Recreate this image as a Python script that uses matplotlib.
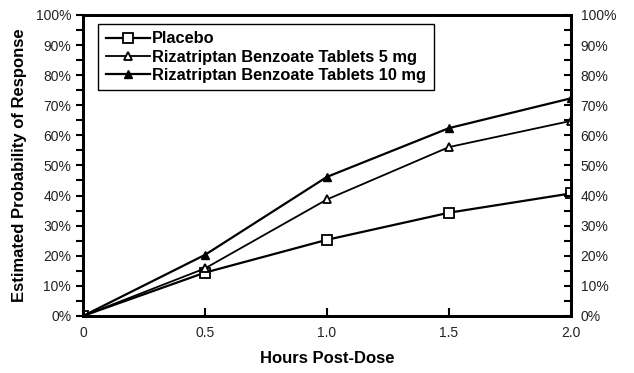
import matplotlib.pyplot as plt
from matplotlib.ticker import MultipleLocator, FuncFormatter

plt.rcParams['font.family'] = ['Liberation Sans', 'DejaVu Sans']

hours = [0, 0.5, 1.0, 1.5, 2.0]
hour_labels = ['0', '0.5', '1.0', '1.5', '2.0']
placebo = [0, 14.4, 25.3, 34.3, 40.7]
riza_5mg = [0, 15.8, 38.7, 56.1, 64.8]
riza_10mg = [0, 20.3, 46.2, 62.4, 72.3]

fig = plt.figure(figsize=(6.34, 3.73), dpi=100)
ax = fig.add_axes([0.131, 0.153, 0.7696, 0.807])

ax.plot(hours, placebo, color='black', linewidth=1.6, marker='s', markersize=7,
        markerfacecolor='white', markeredgecolor='black', markeredgewidth=1.3,
        label='Placebo')
ax.plot(hours, riza_5mg, color='black', linewidth=1.3, marker='^', markersize=6,
        markerfacecolor='white', markeredgecolor='black', markeredgewidth=1.3,
        label='Rizatriptan Benzoate Tablets 5 mg')
ax.plot(hours, riza_10mg, color='black', linewidth=1.6, marker='^', markersize=6,
        markerfacecolor='black', markeredgecolor='black',
        label='Rizatriptan Benzoate Tablets 10 mg')

pct = FuncFormatter(lambda v, p: '%d%%' % round(v))

ax.set_xlim(0, 2.0)
ax.set_ylim(0, 100)
ax.set_xticks(hours)
ax.set_xticklabels(hour_labels)
ax.yaxis.set_major_locator(MultipleLocator(10))
ax.yaxis.set_minor_locator(MultipleLocator(5))
ax.yaxis.set_major_formatter(pct)
ax.tick_params(axis='y', which='both', direction='out', length=5, width=1.5,
               labelsize=10, colors='black', labelcolor='#222222')
ax.tick_params(axis='x', direction='in', length=6, width=1.5, labelsize=10,
               pad=7, labelcolor='#222222')

ax2 = ax.twinx()
ax2.set_ylim(0, 100)
ax2.yaxis.set_major_locator(MultipleLocator(10))
ax2.yaxis.set_minor_locator(MultipleLocator(5))
ax2.yaxis.set_major_formatter(pct)
ax2.tick_params(axis='y', which='both', direction='in', length=5, width=1.5,
                labelsize=10, pad=7, labelcolor='#222222')

for a in (ax, ax2):
    for s in a.spines.values():
        s.set_linewidth(2)

ax.set_xlabel('Hours Post-Dose', fontsize=12, fontweight='bold', labelpad=8)
ax.set_ylabel('Estimated Probability of Response', fontsize=12,
              fontweight='bold', labelpad=6)

leg = ax.legend(loc='upper left', bbox_to_anchor=(0.031, 0.97), fancybox=False,
                framealpha=1, edgecolor='black', handlelength=2.7,
                handletextpad=0.15, borderpad=0.45, labelspacing=0.2,
                borderaxespad=0, prop={'weight': 'bold', 'size': 11.8})
leg.get_frame().set_linewidth(1.0)

fig.savefig('out.png', dpi=100)
